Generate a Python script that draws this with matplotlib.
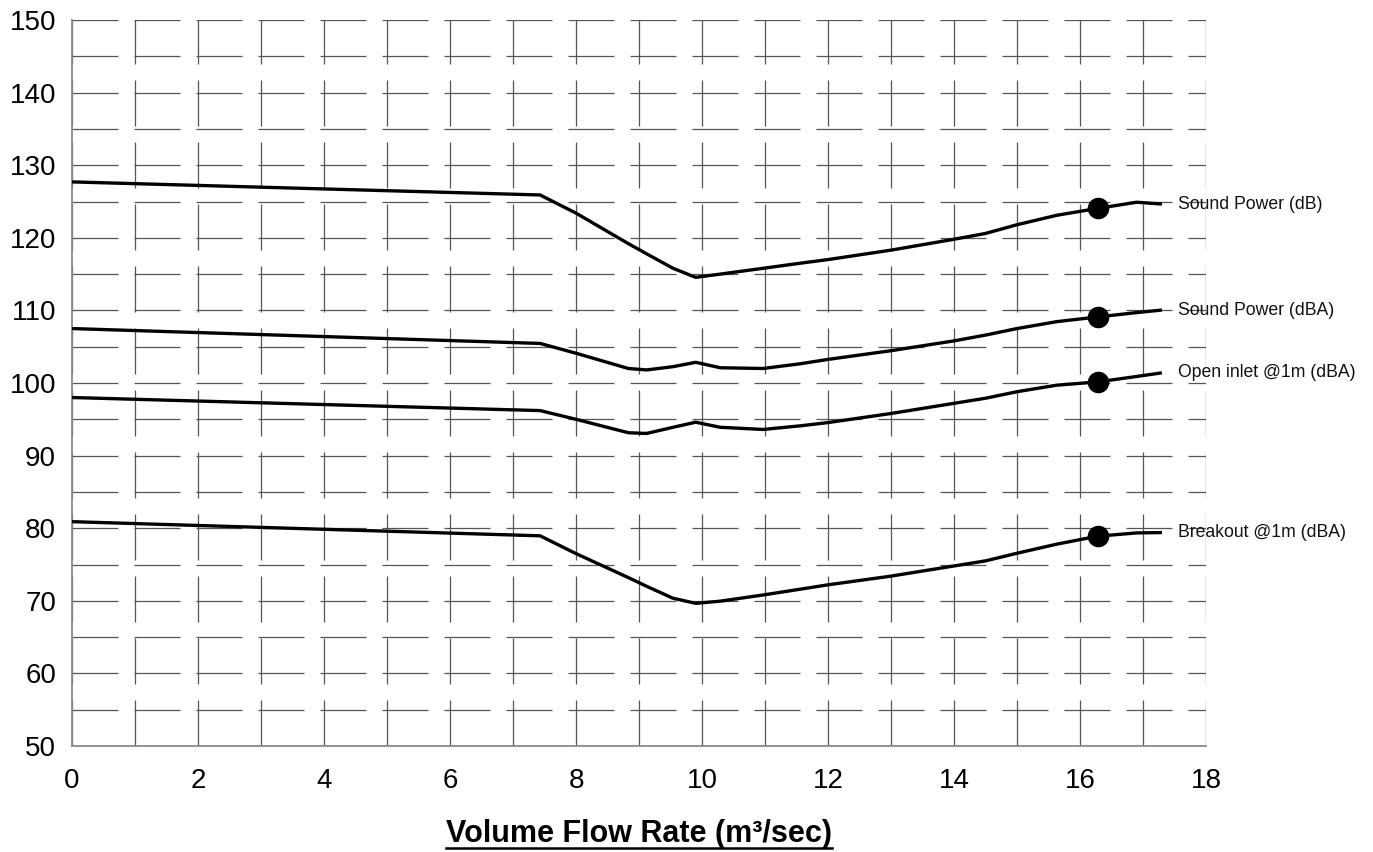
import matplotlib
matplotlib.use('Agg')
import matplotlib.pyplot as plt
from matplotlib.ticker import MultipleLocator
from matplotlib.lines import Line2D

# ---------------- data ----------------
flow = [0, 7.43, 8.0, 8.83, 9.12, 9.54, 9.9, 10.29, 10.97, 11.56, 12.0, 13.0,
        14.0, 14.5, 15.0, 15.63, 16.28, 16.9, 17.3]
sound_power_db = [127.7, 125.9, 123.4, 119.2, 117.8, 115.8, 114.55, 115.0, 115.8,
                  116.5, 117.0, 118.3, 119.8, 120.6, 121.8, 123.1, 124.05, 124.9, 124.65]
sound_power_dba = [107.5, 105.45, 104.1, 102.0, 101.8, 102.25, 102.85, 102.1, 102.0,
                   102.65, 103.25, 104.45, 105.8, 106.6, 107.5, 108.45, 109.1, 109.7, 110.05]
open_inlet_dba = [98.0, 96.2, 95.0, 93.15, 93.05, 93.9, 94.6, 93.9, 93.6,
                  94.1, 94.55, 95.8, 97.2, 97.9, 98.8, 99.7, 100.15, 100.9, 101.4]
breakout_dba = [80.9, 78.95, 76.5, 73.2, 72.0, 70.35, 69.65, 69.95, 70.8,
                71.6, 72.2, 73.4, 74.8, 75.5, 76.55, 77.8, 78.9, 79.35, 79.4]
series_labels = ["Sound Power (dB)", "Sound Power (dBA)",
                 "Open inlet @1m (dBA)", "Breakout @1m (dBA)"]
marker_flow = 16.28
x_label = "Volume Flow Rate (m³/sec)"

plt.rcParams['font.family'] = ['Liberation Sans', 'DejaVu Sans']

W, H = 1373, 852
fig = plt.figure(figsize=(W / 100, H / 100), dpi=100)
ax = fig.add_axes([72 / W, 1 - 746 / H, (1206 - 72) / W, (746 - 20) / H])

ax.set_xlim(0, 18)
ax.set_ylim(50, 150)
ax.xaxis.set_major_locator(MultipleLocator(2))
ax.xaxis.set_minor_locator(MultipleLocator(1))
ax.yaxis.set_major_locator(MultipleLocator(10))
ax.yaxis.set_minor_locator(MultipleLocator(5))
ax.tick_params(which='both', length=0)
ax.tick_params(axis='x', labelsize=20, pad=16)
ax.tick_params(axis='y', labelsize=20, pad=11.5)

ax.grid(which='both', color='#555555', lw=0.9, linestyle=(0, (36.8, 12.8)))
ax.set_axisbelow(True)
for s in ('top', 'right'):
    ax.spines[s].set_visible(False)
for s in ('left', 'bottom'):
    ax.spines[s].set_color('#8a8a8a')
    ax.spines[s].set_linewidth(1.3)

mi = flow.index(marker_flow)
for vals, lab in zip([sound_power_db, sound_power_dba, open_inlet_dba, breakout_dba],
                     series_labels):
    ax.plot(flow, vals, color='black', lw=2.4, solid_joinstyle='round',
            solid_capstyle='butt', zorder=3)
    ax.plot([flow[mi]], [vals[mi]], 'o', color='black', ms=14.5, zorder=4)
    ax.text(17.55, vals[-1], lab, fontsize=12.7, ha='left', va='center',
            clip_on=False, color='#111111')

t = fig.text(639 / W, 1 - 842 / H, x_label, ha='center', va='baseline',
             fontsize=22, fontweight='bold')
fig.canvas.draw()
bb = t.get_window_extent()
uy = 1 - 848 / H
fig.add_artist(Line2D([bb.x0 / W, bb.x1 / W], [uy, uy], transform=fig.transFigure,
                      color='black', lw=1.8))

fig.savefig('out.png', dpi=100)
